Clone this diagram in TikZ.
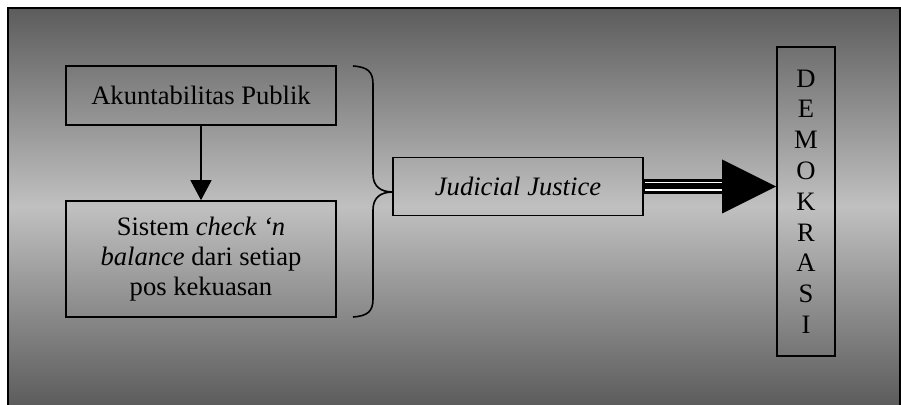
\documentclass[tikz,border=0pt]{standalone}
\usepackage{fontspec}
\setmainfont{Liberation Serif}
\usetikzlibrary{arrows.meta,calc}
\definecolor{bgdark}{RGB}{92,92,92}
\definecolor{bglight}{RGB}{192,192,192}
\begin{document}
\begin{tikzpicture}[x=0.5pt,y=-0.5pt,
  box/.style={draw=black,line width=0.8pt,rectangle,inner sep=0pt,align=center,
    font=\fontsize{13.3}{15}\selectfont},
  conn/.style={line width=0.6pt,-{Triangle[length=10pt,width=10.5pt]}}]
\useasboundingbox (0,0) rectangle (901,405);
\shade[top color=bgdark,bottom color=bgdark,middle color=bglight] (8,8) rectangle (901,405);
\draw[line width=0.8pt] (8,410) -- (8,8) -- (900,8) -- (900,410);

\node[box,minimum width=135pt,minimum height=29.5pt] (b1) at (201,95.5) {Akuntabilitas Publik};
\node[box,minimum width=135pt,minimum height=58pt] (b2) at (201,259)
  {Sistem \textit{check ‘n}\\ \textit{balance} dari setiap\\ pos kekuasan};
\node[box,minimum width=125pt,minimum height=29pt] (jj) at (518,186.5) {\textit{Judicial Justice}};
\node[box,minimum width=29pt,minimum height=154.5pt,font=\fontsize{13.3}{15.4}\selectfont] (demo) at (806,201.5)
  {D\\E\\M\\O\\K\\R\\A\\S\\I};

\draw[conn] (b1.south) -- (b2.north);

% brace
\draw[line width=0.8pt] (353,66) .. controls (368,67) and (373,72) .. (373,84)
  -- (373,174) .. controls (373,186) and (380,192) .. (393,192)
  .. controls (380,192) and (373,198) .. (373,210)
  -- (373,299) .. controls (373,311) and (368,316) .. (353,317);

% triple-line arrow
\coordinate (tip) at (jj.east -| demo.west);
\coordinate (base) at ($(tip)+(-54,0)$);
\fill ($(jj.east)+(0,-7.5)$) rectangle ($(base)+(0,7.5)$);
\draw[white,line width=0.75pt] ($(jj.east)+(1,-4)$) -- ($(base)+(0,-4)$);
\draw[white,line width=0.75pt] ($(jj.east)+(1,3.5)$) -- ($(base)+(0,3.5)$);
\fill ($(base)+(0,-27)$) -- (tip) -- ($(base)+(0,27)$) -- cycle;
\end{tikzpicture}
\end{document}
